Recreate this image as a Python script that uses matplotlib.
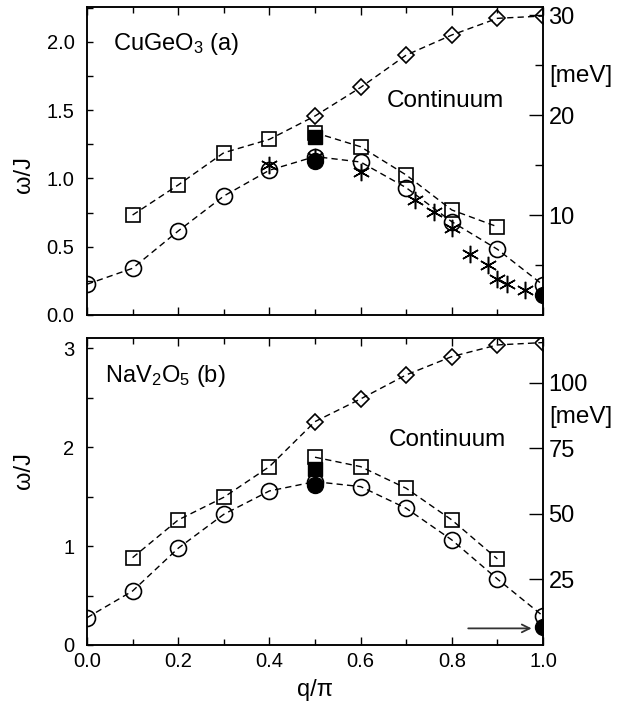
import matplotlib
matplotlib.use("Agg")
import matplotlib.pyplot as plt
from matplotlib.ticker import MultipleLocator, FixedLocator

plt.rcParams['font.family'] = ['Liberation Sans', 'DejaVu Sans']
plt.rcParams['mathtext.fontset'] = 'custom'
plt.rcParams['mathtext.rm'] = 'Liberation Sans'
plt.rcParams['mathtext.it'] = 'Liberation Sans:italic'

# ---------------- data ----------------
q_all = [0.0, 0.1, 0.2, 0.3, 0.4, 0.5, 0.6, 0.7, 0.8, 0.9, 1.0]
q_low = [0.1, 0.2, 0.3, 0.4]
q_high = [0.5, 0.6, 0.7, 0.8, 0.9, 1.0]
q_sq2 = [0.5, 0.6, 0.7, 0.8, 0.9]

# CuGeO3 (a)
circ_a = [0.225, 0.342, 0.615, 0.871, 1.06, 1.16, 1.12, 0.932, 0.683, 0.481, 0.22]
sq_a = [0.732, 0.952, 1.188, 1.286]
dia_a = [1.457, 1.666, 1.903, 2.05, 2.172, 2.189]
sq2_a = [1.335, 1.232, 1.025, 0.769, 0.646]
fcirc_a_q = [0.5, 1.0]
fcirc_a = [1.125, 0.146]
fsq_a_q = [0.5]
fsq_a = [1.30]
star_q = [0.4, 0.5, 0.6, 0.72, 0.76, 0.80, 0.84, 0.88, 0.90, 0.92, 0.96]
star_w = [1.095, 1.16, 1.05, 0.842, 0.756, 0.639, 0.447, 0.366, 0.261, 0.227, 0.183]
J_a = 13.66  # meV
right_ticks_a = [10, 20, 30]
right_minor_a = [5, 15, 25]

# NaV2O5 (b)
circ_b = [0.276, 0.546, 0.978, 1.321, 1.557, 1.651, 1.601, 1.382, 1.062, 0.667, 0.293]
sq_b = [0.883, 1.264, 1.493, 1.803]
dia_b = [2.258, 2.487, 2.73, 2.915, 3.033, 3.057]
sq2_b = [1.898, 1.803, 1.584, 1.264, 0.870]
fcirc_b_q = [0.5, 1.0]
fcirc_b = [1.618, 0.185]
fsq_b_q = [0.5]
fsq_b = [1.78]
J_b = 37.7  # meV
right_ticks_b = [25, 50, 75, 100]
right_minor_b = []

fig = plt.figure(figsize=(6.3, 7.05), dpi=100)
ax1 = fig.add_axes([87/630, 1-315/705, 456/630, 308/705])
ax2 = fig.add_axes([87/630, 1-645/705, 456/630, 306.7/705])

dash = (0, (4.5, 3.0))
ms_c, ms_s, ms_d = 11.5, 10.5, 8.5


def panel(ax, circ, sq, dia, sq2, fcq, fc, fsq_q, fsq, ylim, J, rmajor, rminor, stars=None):
    ax.plot(q_all, circ, color='black', lw=1.0, ls=dash, zorder=2)
    ax.plot(q_low + q_high, sq + dia, color='black', lw=1.0, ls=dash, zorder=2)
    ax.plot(q_sq2, sq2, color='black', lw=1.0, ls=dash, zorder=2)
    ax.plot(q_all, circ, ls='none', marker='o', ms=ms_c, mfc='none', mec='black', mew=1.2, zorder=3)
    ax.plot(q_low, sq, ls='none', marker='s', ms=ms_s, mfc='none', mec='black', mew=1.2, zorder=3)
    ax.plot(q_sq2, sq2, ls='none', marker='s', ms=ms_s, mfc='none', mec='black', mew=1.2, zorder=3)
    ax.plot(q_high, dia, ls='none', marker='D', ms=ms_d, mfc='none', mec='black', mew=1.2, zorder=3)
    if stars is not None:
        ax.plot(stars[0], stars[1], ls='none', marker=(6, 2, 0), ms=12.5, mec='black', mew=1.1, zorder=4)
    ax.plot(fsq_q, fsq, ls='none', marker='s', ms=ms_s - 1, mfc='black', mec='black', zorder=5)
    ax.plot(fcq, fc, ls='none', marker='o', ms=ms_c, mfc='black', mec='black', zorder=5)
    ax.set_xlim(0, 1.0)
    ax.set_ylim(*ylim)
    ax.xaxis.set_major_locator(MultipleLocator(0.2))
    ax.xaxis.set_minor_locator(MultipleLocator(0.1))
    ax.tick_params(axis='x', which='both', direction='in', top=True, bottom=True)
    ax.tick_params(axis='x', which='major', length=6, width=1)
    ax.tick_params(axis='x', which='minor', length=4, width=1)
    ax.tick_params(axis='y', which='both', direction='in', left=True, right=False,
                   length=4, width=1, labelsize=14.5, pad=9)
    for s in ax.spines.values():
        s.set_linewidth(1.1)
    tw = ax.twinx()
    tw.set_ylim(ylim[0] * J, ylim[1] * J)
    tw.yaxis.set_major_locator(FixedLocator(rmajor))
    tw.yaxis.set_minor_locator(FixedLocator(rminor))
    tw.tick_params(axis='y', which='major', direction='in', length=10, width=1, labelsize=17, pad=4)
    tw.tick_params(axis='y', which='minor', direction='in', length=6, width=1)
    for s in tw.spines.values():
        s.set_linewidth(1.1)
    return tw


tw1 = panel(ax1, circ_a, sq_a, dia_a, sq2_a, fcirc_a_q, fcirc_a, fsq_a_q, fsq_a,
            (0, 2.255), J_a, right_ticks_a, right_minor_a, stars=(star_q, star_w))
tw2 = panel(ax2, circ_b, sq_b, dia_b, sq2_b, fcirc_b_q, fcirc_b, fsq_b_q, fsq_b,
            (0, 3.1), J_b, right_ticks_b, right_minor_b)

ax1.yaxis.set_major_locator(MultipleLocator(0.5))
ax1.yaxis.set_minor_locator(MultipleLocator(0.25))
ax1.yaxis.set_major_formatter(matplotlib.ticker.FormatStrFormatter('%.1f'))
ax1.tick_params(axis='y', which='minor', direction='in', length=4, width=1)
ax2.yaxis.set_major_locator(MultipleLocator(1))
ax2.yaxis.set_minor_locator(MultipleLocator(0.5))
ax2.tick_params(axis='y', which='minor', direction='in', length=4, width=1)

ax1.tick_params(axis='x', labelbottom=False)
ax2.xaxis.set_major_formatter(matplotlib.ticker.FormatStrFormatter('%.1f'))
ax2.tick_params(axis='x', labelsize=14.5, pad=5)

ax1.set_ylabel('ω/J', fontsize=17)
ax1.yaxis.set_label_coords(-0.115, 0.455)
ax2.set_ylabel('ω/J', fontsize=17)
ax2.yaxis.set_label_coords(-0.115, 0.57)
fig.text(315/630, 1-690/705, 'q/π', fontsize=17, ha='center', va='center')

ax1.text(0.057, 1.94, 'CuGeO$_3$ (a)', fontsize=17, ha='left', va='baseline')
ax1.text(0.657, 1.52, 'Continuum', fontsize=17.5, ha='left', va='baseline')
ax1.text(1.013, 1.708, '[meV]', fontsize=17.5, ha='left', va='baseline', clip_on=False)
ax2.text(0.039, 2.662, 'NaV$_2$O$_5$ (b)', fontsize=17, ha='left', va='baseline')
ax2.text(0.662, 2.012, 'Continuum', fontsize=17.5, ha='left', va='baseline')
ax2.text(1.013, 2.245, '[meV]', fontsize=17.5, ha='left', va='baseline', clip_on=False)

ax2.annotate('', xy=(0.975, 0.168), xytext=(0.836, 0.168),
             arrowprops=dict(arrowstyle='->', color='#333333', lw=1.3, mutation_scale=14,
                             shrinkA=0, shrinkB=0), zorder=6)

fig.savefig('out.png', dpi=100)
